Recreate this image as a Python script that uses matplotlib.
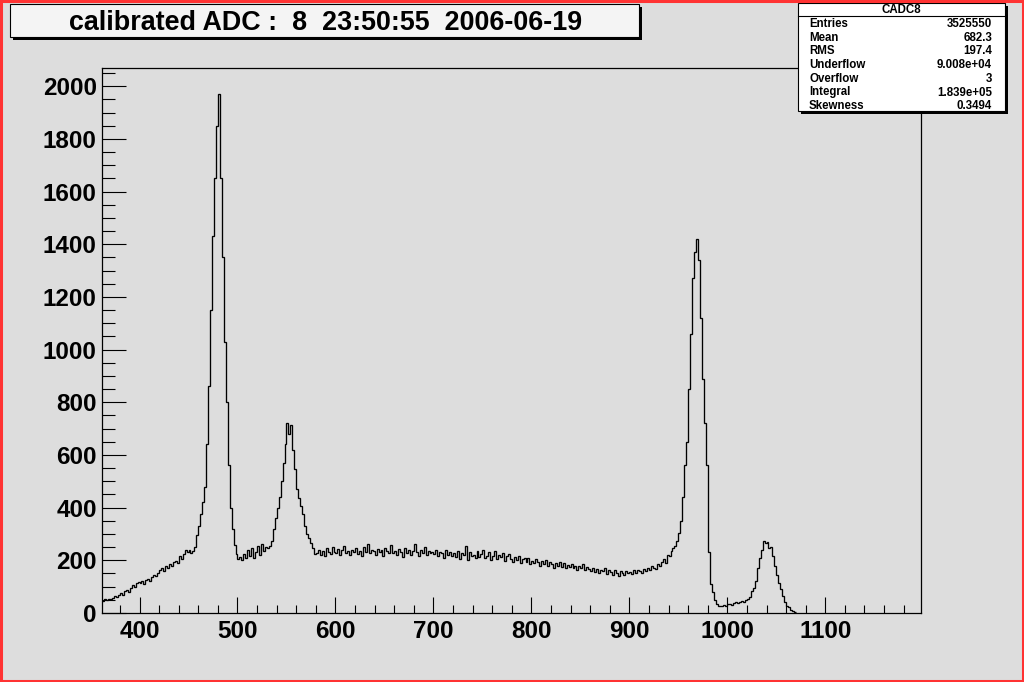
import matplotlib
matplotlib.use("Agg")
import matplotlib.pyplot as plt
import numpy as np
from matplotlib.patches import Rectangle
from matplotlib.ticker import MultipleLocator, FixedLocator

# ---------------- data ----------------
bin_start = 362
bin_width = 2

counts_rise = [47, 52, 50, 55, 54, 58, 64, 60, 70,
               75, 70, 82, 88, 80, 95, 105, 100, 112, 118,
               115, 122, 110, 125, 130, 122, 138, 145, 140, 152,
               165, 172, 160, 178, 172, 185, 180, 192, 198, 190,
               215, 205, 225, 240, 230, 238, 228, 235, 250, 295]
counts_peak1 = [330, 375, 420, 480, 640, 860, 1150, 1430, 1650, 1850,
                1970, 1650, 1350, 1030, 800, 560, 400, 320, 260, 225]
counts_valley1 = [205, 212, 200, 225, 208, 240, 215, 248, 210, 232,
                  255, 220, 262, 235, 250]
counts_peak2 = [245, 255, 275, 320, 360, 400, 440, 500, 570, 640,
                720, 680, 715, 620, 545, 470, 435, 405, 375, 330,
                300, 285, 265, 245, 225]
counts_plateau = [228, 240, 222, 235, 218, 245, 230, 225, 250, 232,
                  226, 242, 220, 238, 255, 228, 236, 222, 240, 230,
                  245, 225, 236, 218, 250, 232, 262, 228, 240, 235,
                  222, 244, 230, 238, 215, 248, 235, 228, 258, 226,
                  236, 220, 242, 230, 212, 246, 228, 238, 222, 235,
                  262, 230, 218, 240, 226, 252, 222, 236, 228, 232,
                  224, 238, 215, 232, 226, 210, 240, 222, 230, 218,
                  226, 212, 234, 205, 228, 220, 255, 200, 230, 216,
                  222, 208, 235, 214, 225, 240, 210, 218, 232, 200,
                  215, 236, 205, 220, 212, 228, 198, 215, 225, 205,
                  195, 212, 200, 218, 190, 205, 210, 195, 208, 185,
                  198, 188, 205, 192, 180, 198, 186, 200, 178, 192,
                  185, 172, 190, 180, 195, 175, 188, 170, 182, 176,
                  185, 170, 180, 165, 178, 172, 185, 162, 175, 168,
                  160, 172, 155, 168, 150, 165, 158, 170, 148, 162,
                  155, 145, 162, 150, 140, 158, 152, 145, 160, 150,
                  155, 148, 162, 152, 165, 158, 150, 168, 160, 170,
                  165, 178, 172, 168, 185, 178, 195, 205, 190, 220]
counts_peak3 = [215, 235, 245, 255, 275, 305, 350, 440, 560, 650,
                850, 1060, 1270, 1370, 1420, 1340, 1120, 890, 720, 560,
                230, 110, 80, 50, 35, 25]
counts_valley2 = [25, 28, 30, 27, 33, 35, 32, 38, 40, 37, 42, 45, 43, 48, 52]
counts_peak4 = [60, 85, 95, 120, 170, 210, 240, 275, 265, 270,
                245, 250, 215, 180, 145, 113, 90, 65, 40, 28,
                22, 12, 6, 2]

x_ticks = [400, 500, 600, 700, 800, 900, 1000, 1100]
y_ticks = [0, 200, 400, 600, 800, 1000, 1200, 1400, 1600, 1800, 2000]
x_range = (362, 1198)
y_range = (0, 2068)

title_text = "calibrated ADC :  8  23:50:55  2006-06-19"
stats_name = "CADC8"
stats_labels = ["Entries", "Mean", "RMS", "Underflow", "Overflow", "Integral", "Skewness"]
stats_values = ["3525550", "682.3", "197.4", "9.008e+04", "3", "1.839e+05", "0.3494"]

# ---------------- figure ----------------
W, H = 1024, 682
plt.rcParams['font.family'] = ['Liberation Sans', 'DejaVu Sans']
plt.rcParams['font.weight'] = 'bold'
bg = '#dddddd'
fig = plt.figure(figsize=(W / 100, H / 100), dpi=100, facecolor=bg)


def fx(x):
    return x / W


def fy(y):
    return 1 - y / H


ax_l, ax_r, ax_t, ax_b = 102.3, 921.3, 68.3, 613.0
ax = fig.add_axes([fx(ax_l), fy(ax_b), (ax_r - ax_l) / W, (ax_b - ax_t) / H])
ax.set_facecolor(bg)

counts = np.array(counts_rise + counts_peak1 + counts_valley1 + counts_peak2 +
                  counts_plateau + counts_peak3 + counts_valley2 + counts_peak4, dtype=float)
edges = bin_start + bin_width * np.arange(len(counts) + 1)
ax.stairs(counts, edges, baseline=None, color='black', linewidth=0.95)

ax.set_xlim(*x_range)
ax.set_ylim(*y_range)
ax.xaxis.set_major_locator(FixedLocator(x_ticks))
ax.xaxis.set_minor_locator(MultipleLocator(20))
ax.yaxis.set_major_locator(FixedLocator(y_ticks))
ax.yaxis.set_minor_locator(MultipleLocator(50))
ax.tick_params(axis='x', which='major', direction='in', length=11.5, width=0.8,
               labelsize=17.5, pad=5, top=False)
ax.tick_params(axis='x', which='minor', direction='in', length=5.8, width=0.8, top=False)
ax.tick_params(axis='y', which='major', direction='in', length=17.3, width=0.8,
               labelsize=17.5, pad=4, right=False)
ax.tick_params(axis='y', which='minor', direction='in', length=9.4, width=0.8, right=False)
for lab in ax.get_xticklabels() + ax.get_yticklabels():
    lab.set_fontweight('bold')
for s in ax.spines.values():
    s.set_linewidth(0.9)
    s.set_color('black')

# ---------------- title box ----------------
tx0, ty0, tx1, ty1 = 10, 4, 639, 37
sh = 3
fig.add_artist(Rectangle((fx(tx0 + sh), fy(ty1 + sh)), (tx1 - tx0) / W, (ty1 - ty0) / H,
                         transform=fig.transFigure, facecolor='black', edgecolor='none', zorder=10))
fig.add_artist(Rectangle((fx(tx0), fy(ty1)), (tx1 - tx0) / W, (ty1 - ty0) / H,
                         transform=fig.transFigure, facecolor='#f4f4f4', edgecolor='black',
                         linewidth=0.8, zorder=11))
fig.text(fx((tx0 + tx1) / 2 + 1), fy(22.5), title_text, ha='center', va='center',
         fontsize=19.4, fontweight='bold', zorder=12)

# ---------------- stats box ----------------
sx0, sy0, sx1, sy1 = 798, 3, 1005, 111
fig.add_artist(Rectangle((fx(sx0 + sh), fy(sy1 + sh)), (sx1 - sx0) / W, (sy1 - sy0) / H,
                         transform=fig.transFigure, facecolor='black', edgecolor='none', zorder=10))
fig.add_artist(Rectangle((fx(sx0), fy(sy1)), (sx1 - sx0) / W, (sy1 - sy0) / H,
                         transform=fig.transFigure, facecolor='white', edgecolor='black',
                         linewidth=0.8, zorder=11))
fig.add_artist(plt.Line2D([fx(sx0), fx(sx1)], [fy(16), fy(16)], transform=fig.transFigure,
                          color='black', linewidth=0.8, zorder=12))
fig.text(fx((sx0 + sx1) / 2), fy(10), stats_name, ha='center', va='center',
         fontsize=8.3, fontweight='bold', zorder=12)
row_y0, row_dy = 24, 13.7
for i, (lab, val) in enumerate(zip(stats_labels, stats_values)):
    yy = fy(row_y0 + i * row_dy)
    fig.text(fx(809), yy, lab, ha='left', va='center', fontsize=8.3, fontweight='bold', zorder=12)
    fig.text(fx(992), yy, val, ha='right', va='center', fontsize=8.3, fontweight='bold', zorder=12)

# ---------------- red canvas border ----------------
fig.add_artist(Rectangle((0.001, 0.0015), 0.998, 0.997, transform=fig.transFigure,
                         facecolor='none', edgecolor='#ff3333', linewidth=2.2, zorder=20))

fig.savefig('out.png', dpi=100, facecolor=bg)
